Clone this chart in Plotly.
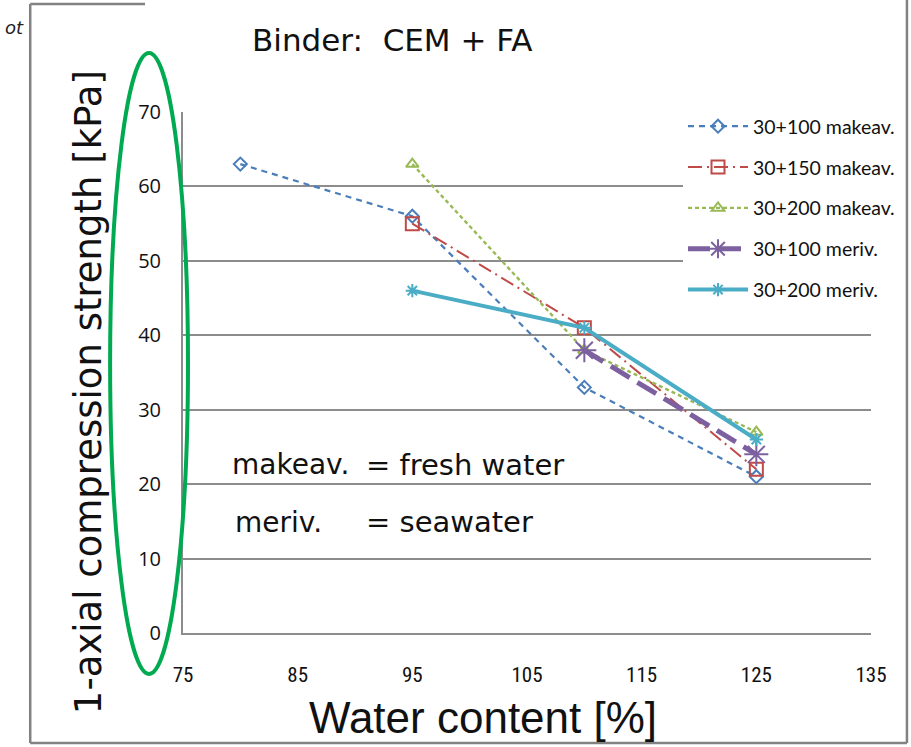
import plotly.graph_objects as go

# ---- data ----
x_100_mak = [80, 95, 110, 125]
y_100_mak = [63, 56, 33, 21]
x_150_mak = [95, 110, 125]
y_150_mak = [55, 41, 22]
x_200_mak = [95, 110, 125]
y_200_mak = [63, 38, 27]
x_100_mer = [110, 125]
y_100_mer = [38, 24]
x_200_mer = [95, 110, 125]
y_200_mer = [46, 41, 26]

x_ticks = [75, 85, 95, 105, 115, 125, 135]
y_ticks = [0, 10, 20, 30, 40, 50, 60, 70]

W, H = 911, 747
L, R, T, B = 183, 872, 112, 633


def px(x):
    return (x - L) / (R - L)


def py(y):
    return (B - y) / (B - T)


fig = go.Figure()

series = [
    dict(name="30+100 makeav.", x=x_100_mak, y=y_100_mak, color="rgb(74,126,187)",
         dash="6px,5px", width=2.2, symbol="diamond-open", size=10),
    dict(name="30+150 makeav.", x=x_150_mak, y=y_150_mak, color="rgb(190,75,72)",
         dash="14px,5px,2px,5px", width=2, symbol="square-open", size=13),
    dict(name="30+200 makeav.", x=x_200_mak, y=y_200_mak, color="rgb(152,185,84)",
         dash="4px,3px", width=2.4, symbol="triangle-up-open", size=11),
    dict(name="30+100 meriv.", x=x_100_mer, y=y_100_mer, color="rgb(125,96,160)",
         dash="22px,9px", width=5, symbol="asterisk-open", size=20),
    dict(name="30+200 meriv.", x=x_200_mer, y=y_200_mer, color="rgb(75,172,198)",
         dash="solid", width=4, symbol="asterisk-open", size=11),
]

for i, s in enumerate(series):
    fig.add_trace(go.Scatter(
        x=s["x"], y=s["y"], name=s["name"], mode="lines+markers",
        legendgroup=f"g{i}",
        line=dict(color=s["color"], dash=s["dash"], width=s["width"]),
        marker=dict(symbol=s["symbol"], size=s["size"], color=s["color"],
                    line=dict(color=s["color"], width=2)),
    ))

grid = "rgb(140,140,140)"
fig.update_xaxes(
    range=[75, 135], tickvals=x_ticks, ticktext=[str(v) for v in x_ticks],
    showgrid=False, zeroline=False, showline=True, linecolor=grid, linewidth=2,
    ticks="", ticklabelstandoff=22,
    tickfont=dict(family="Liberation Sans Narrow, Roboto Condensed, Arial Narrow, sans-serif",
                  size=21, color="#111"),
)
fig.update_yaxes(
    range=[0, 70], tickvals=y_ticks, ticktext=[str(v) for v in y_ticks],
    showgrid=True, gridcolor=grid, gridwidth=1.6, zeroline=False,
    showline=True, linecolor=grid, linewidth=2,
    ticks="", ticklabelstandoff=16,
    tickfont=dict(family="Open Sans, sans-serif", size=20, color="#111"),
)

ann = []
ann.append(dict(x=px(392), y=py(40), text="Binder:  CEM + FA",
                font=dict(family="DejaVu Sans", size=31, color="#111")))
ann.append(dict(x=px(88), y=py(392), text="1-axial compression strength [kPa]", textangle=-90,
                font=dict(family="DejaVu Sans", size=37, color="#111")))
ann.append(dict(x=px(483), y=py(717), text="Water content [%]",
                font=dict(family="Liberation Sans, Arial, sans-serif", size=44, color="#111")))
ann.append(dict(x=px(230), y=py(465), text="makeav.", xanchor="left",
                font=dict(family="DejaVu Sans", size=28, color="#111")))
ann.append(dict(x=px(364), y=py(465), text="= fresh water", xanchor="left",
                font=dict(family="DejaVu Sans", size=29, color="#111")))
ann.append(dict(x=px(233), y=py(522), text="meriv.", xanchor="left",
                font=dict(family="DejaVu Sans", size=28, color="#111")))
ann.append(dict(x=px(364), y=py(522), text="= seawater", xanchor="left",
                font=dict(family="DejaVu Sans", size=29, color="#111")))
ann.append(dict(x=px(14), y=py(28), text="<i>ot</i>",
                font=dict(family="DejaVu Sans", size=18, color="#222")))
for a in ann:
    a.update(xref="paper", yref="paper", showarrow=False)
    a.setdefault("xanchor", "center")
    a.setdefault("yanchor", "middle")

frame = "rgb(130,130,130)"
shapes = [
    dict(type="line", x0=px(30), x1=px(30), y0=py(4), y1=py(743), line=dict(color=frame, width=2.5)),
    dict(type="line", x0=px(30), x1=px(908), y0=py(743), y1=py(743), line=dict(color=frame, width=2.5)),
    dict(type="line", x0=px(908), x1=px(908), y0=py(0), y1=py(743), line=dict(color=frame, width=2.5)),
    dict(type="line", x0=px(30), x1=px(145), y0=py(4), y1=py(4), line=dict(color=frame, width=2.5)),
    dict(type="circle", x0=px(110), x1=px(188), y0=py(53), y1=py(674),
         line=dict(color="rgb(0,170,80)", width=4)),
]
for s in shapes:
    s.update(xref="paper", yref="paper", layer="above")

fig.update_layout(
    width=W, height=H,
    margin=dict(l=L, r=W - R, t=T, b=H - B),
    paper_bgcolor="white", plot_bgcolor="white",
    showlegend=True,
    legend=dict(x=px(683), y=py(107), xanchor="left", yanchor="top",
                bgcolor="white", traceorder="grouped", tracegroupgap=12.5,
                itemwidth=60,
                font=dict(family="Lato, sans-serif", size=19.5, color="#111")),
    annotations=ann, shapes=shapes,
)

fig.write_html("out.html")
